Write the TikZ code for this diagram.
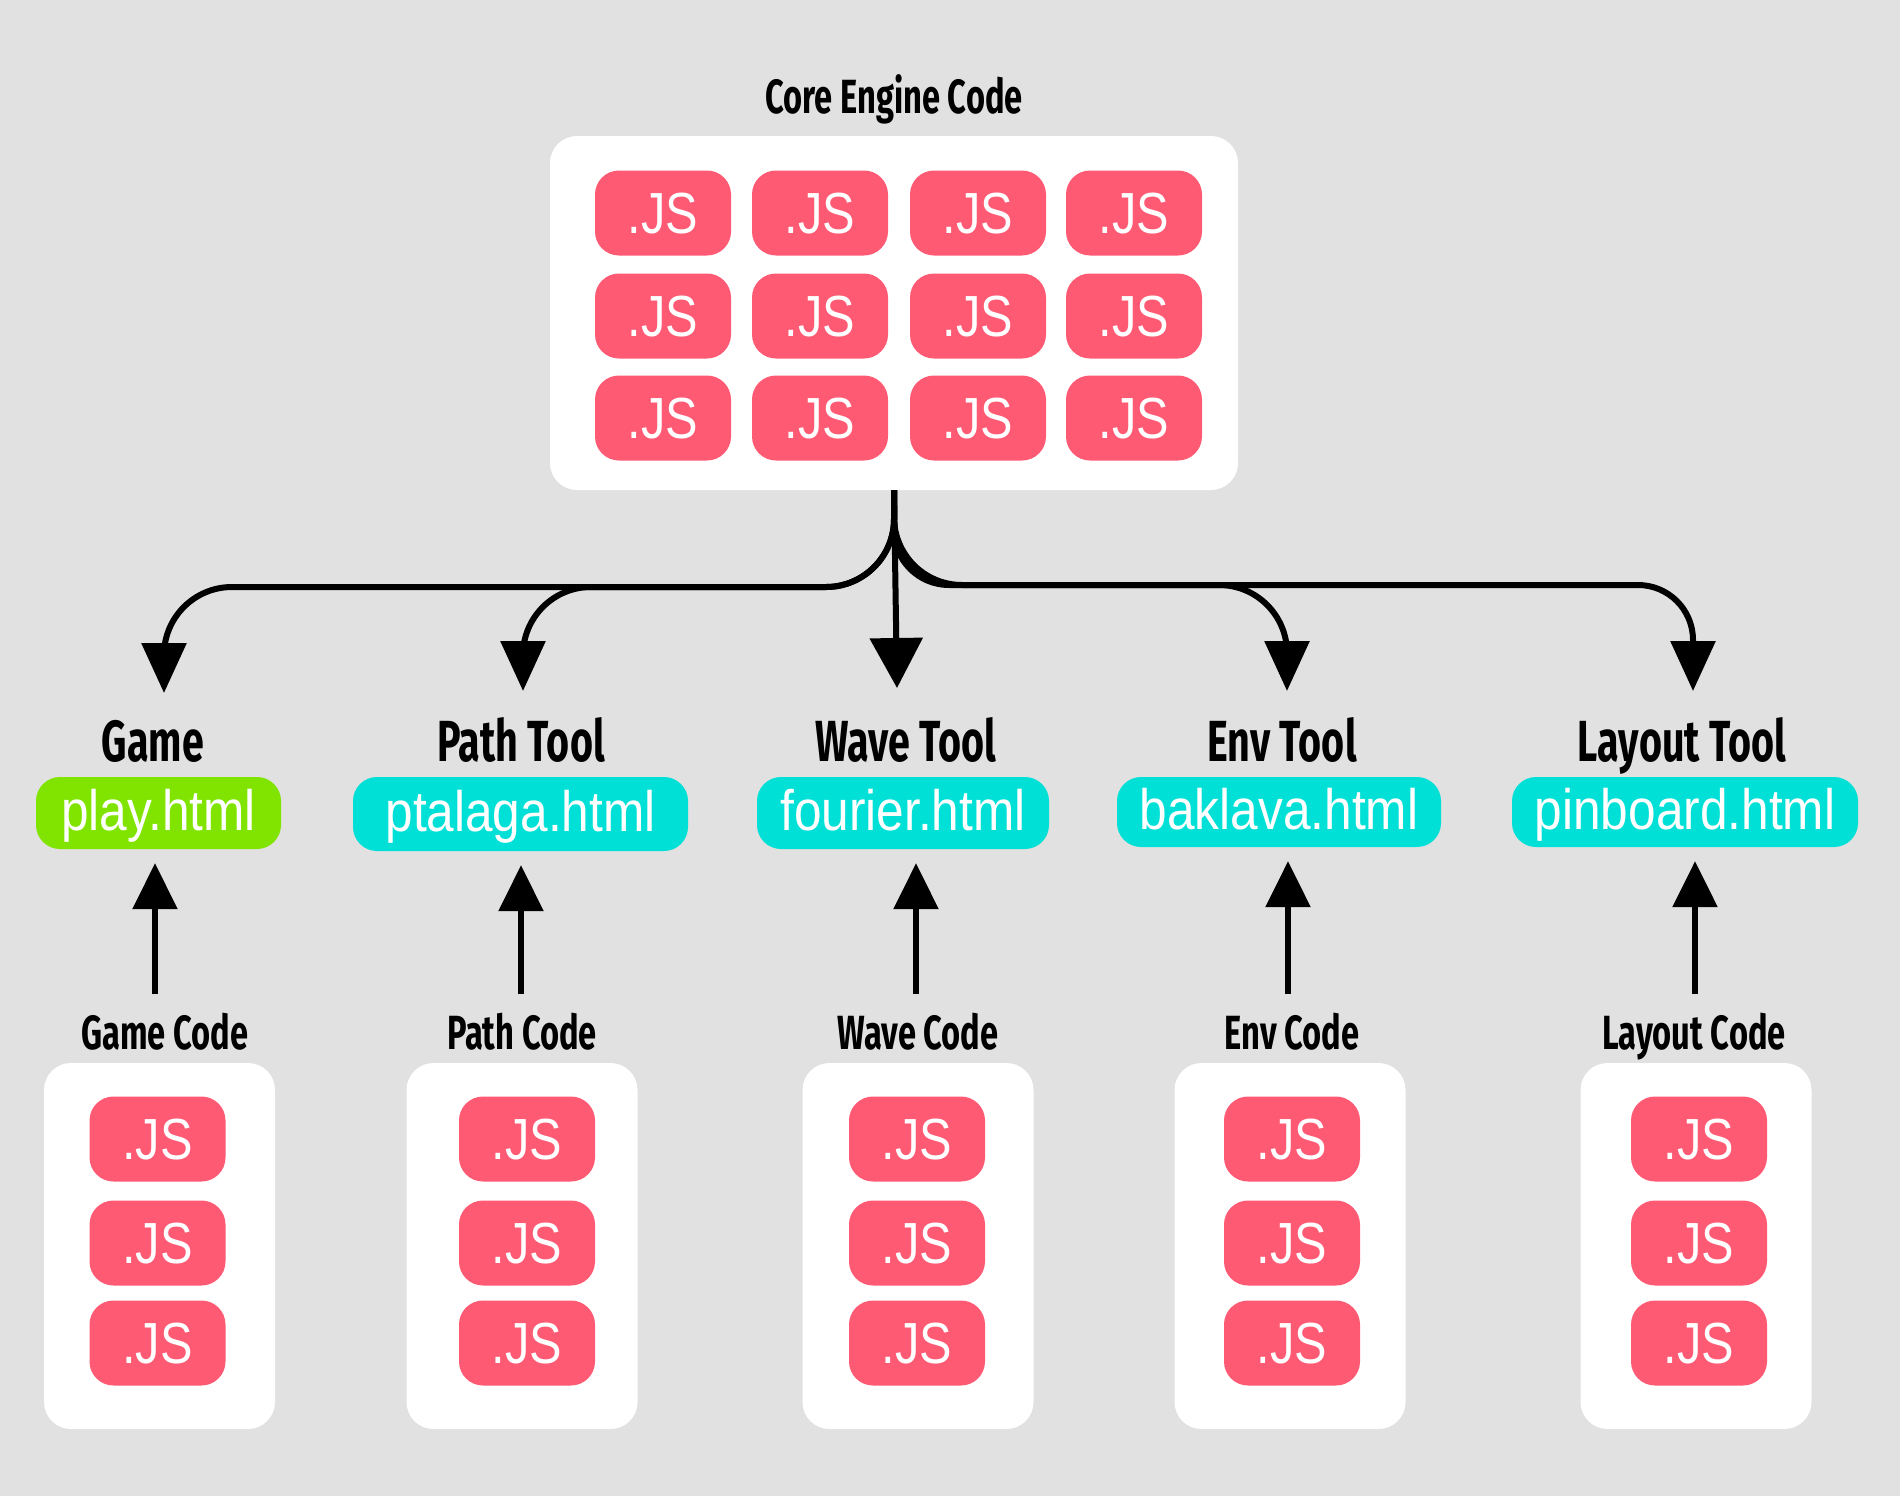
\documentclass[tikz,border=0pt]{standalone}
\usepackage{fontspec}
\usetikzlibrary{arrows.meta}
\newfontfamily\tilefont[FakeStretch=0.84]{Liberation Sans}
\newfontfamily\htmlfont[FakeStretch=0.87]{Liberation Sans}
\newfontfamily\headfont[FakeStretch=0.68]{Fira Sans}
\definecolor{bgc}{HTML}{E1E1E1}
\definecolor{pinkc}{HTML}{FF5A74}
\definecolor{greenc}{HTML}{80E400}
\definecolor{cyanc}{HTML}{00E0D6}
\tikzset{
  tile/.style={fill=pinkc, rounded corners=24pt, minimum width=136pt, minimum height=85pt, inner sep=0pt, text=white, font=\tilefont\fontsize{58}{58}\selectfont, text height=42pt, text depth=2pt},
  panel/.style={fill=white, rounded corners=27pt, inner sep=0pt},
  htmlbox/.style={rounded corners=24pt, inner sep=0pt, text=white, font=\htmlfont\fontsize{57}{57}\selectfont, text height=42pt, text depth=8pt},
  head/.style={anchor=base, inner sep=0pt, font=\headfont\bfseries\fontsize{58}{58}\selectfont},
  sub/.style={anchor=base, inner sep=0pt, font=\headfont\bfseries\fontsize{48}{48}\selectfont},
  downarr/.style={line width=6pt, -{Triangle[width=44pt,length=50pt]}},
  uparr/.style={line width=6pt, -{Triangle[width=44pt,length=46pt]}, shorten <=18pt, shorten >=14pt},
}
\begin{document}
\begin{tikzpicture}[x=1pt, y=-1pt]
\fill[bgc] (0,0) rectangle (1900,1496);
\useasboundingbox (0,0) rectangle (1900,1496);

% core
\node[sub] (coretitle) at (894,113) {Core Engine Code};
\node[panel, minimum width=688pt, minimum height=354pt] (core) at (894,313) {};
\foreach \c/\x in {1/663,2/820,3/978,4/1134}{
  \foreach \r/\y in {1/213,2/316,3/418}{
    \node[tile] (ct\r\c) at (\x,\y) {.JS};
  }
}

% headings
\node[head] (hgame) at (153,761) {Game};
\node[head] (hpath) at (521,761) {Path Tool};
\node[head] (hwave) at (906,761) {Wave Tool};
\node[head] (henv) at (1282,761) {Env Tool};
\node[head] (hlay) at (1682,761) {Layout Tool};

% html boxes
\node[htmlbox, fill=greenc, minimum width=245pt, minimum height=72pt] (play) at (158.5,813) {play.html};
\node[htmlbox, fill=cyanc, minimum width=335pt, minimum height=74pt] (ptal) at (520.5,814) {ptalaga.html};
\node[htmlbox, fill=cyanc, minimum width=292pt, minimum height=72pt] (four) at (903,813) {fourier.html};
\node[htmlbox, fill=cyanc, minimum width=324pt, minimum height=70pt] (bakl) at (1279,812) {baklava.html};
\node[htmlbox, fill=cyanc, minimum width=346pt, minimum height=70pt] (pinb) at (1685,812) {pinboard.html};

% code labels
\node[sub] (cgame) at (165,1049) {Game Code};
\node[sub] (cpath) at (522,1049) {Path Code};
\node[sub] (cwave) at (918,1049) {Wave Code};
\node[sub] (cenv) at (1292,1049) {Env Code};
\node[sub] (clay) at (1694,1049) {Layout Code};

% code panels
\foreach \n/\px/\tx in {g/159.5/157.5, p/522/527, w/918/917, e/1290/1292, l/1696/1699}{
  \node[panel, minimum width=231pt, minimum height=366pt] (box\n) at (\px,1246) {};
  \foreach \r/\y in {1/1139,2/1243,3/1343}{
    \node[tile] (t\n\r) at (\tx,\y) {.JS};
  }
}

% down connectors
\coordinate (gtip) at (164,693);
\coordinate (ptip) at (523,691);
\coordinate (wtip) at (897,688);
\coordinate (etip) at (1287,691);
\coordinate (ltip) at (1693,691);
\coordinate (gbar) at (164,587);
\coordinate (pbar) at (523,587);
\coordinate (ebar) at (1287,585);
\coordinate (lbar) at (1693,585);
\draw[downarr, rounded corners=68pt] (core.south) |- (gbar) -- (gtip);
\draw[downarr, rounded corners=68pt] (core.south) |- (pbar) -- (ptip);
\draw[line width=6pt, -{Triangle[width=52pt,length=50pt]}] (core.south) -- (wtip);
\draw[downarr, rounded corners=68pt] (core.south) |- (ebar) -- (etip);
\draw[downarr, rounded corners=55pt] (core.south) |- (lbar) -- (ltip);

% up connectors
\coordinate (ua1) at (155,0);
\coordinate (ua2) at (521,0);
\coordinate (ua3) at (916,0);
\coordinate (ua4) at (1288,0);
\coordinate (ua5) at (1695,0);
\draw[uparr] (ua1 |- cgame.north) -- (ua1 |- play.south);
\draw[uparr] (ua2 |- cpath.north) -- (ua2 |- ptal.south);
\draw[uparr] (ua3 |- cwave.north) -- (ua3 |- four.south);
\draw[uparr] (ua4 |- cenv.north) -- (ua4 |- bakl.south);
\draw[uparr] (ua5 |- clay.north) -- (ua5 |- pinb.south);
\end{tikzpicture}
\end{document}
